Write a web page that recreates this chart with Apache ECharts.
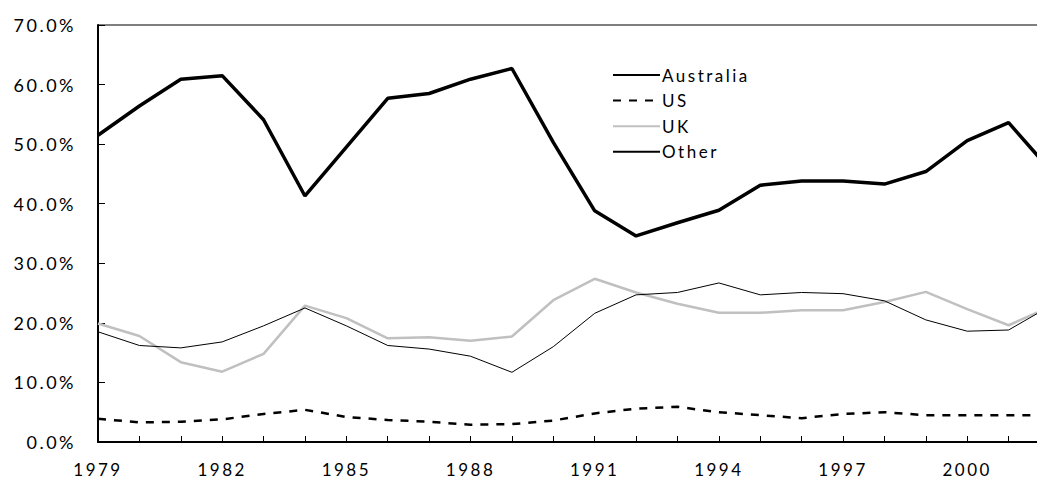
<!DOCTYPE html>
<html>
<head>
<meta charset="utf-8">
<script src="https://cdn.jsdelivr.net/npm/echarts@6/dist/echarts.min.js"></script>
<style>
  html, body { margin: 0; padding: 0; background: #fff; }
  #main { width: 1037px; height: 478px; overflow: hidden; }
  #main svg text { letter-spacing: 2.5px; }
</style>
</head>
<body>
<div id="main"></div>
<script>
const years = ['1979','1980','1981','1982','1983','1984','1985','1986','1987','1988','1989','1990',
               '1991','1992','1993','1994','1995','1996','1997','1998','1999','2000','2001','2002'];
const australia = [51.5,56.4,60.9,61.5,54.1,41.3,49.5,57.7,58.5,60.9,62.7,50.3,
                   38.8,34.6,36.8,38.9,43.1,43.8,43.8,43.3,45.4,50.6,53.6,45.7];
const us = [3.9,3.3,3.4,3.8,4.7,5.4,4.2,3.7,3.4,2.9,3.0,3.6,
            4.8,5.6,5.9,5.0,4.5,4.0,4.7,5.0,4.5,4.5,4.5,4.5];
const uk = [19.9,17.8,13.4,11.8,14.8,22.9,20.8,17.4,17.6,17.0,17.7,23.8,
            27.4,25.1,23.2,21.7,21.7,22.1,22.1,23.5,25.2,22.3,19.6,22.7];
const other = [18.5,16.2,15.8,16.8,19.5,22.5,19.5,16.2,15.6,14.4,11.7,16.0,
               21.6,24.7,25.1,26.7,24.7,25.1,24.9,23.7,20.5,18.6,18.8,22.8];

const FONT = 'Lato, "Open Sans", sans-serif';
const chart = echarts.init(document.getElementById('main'), null, { renderer: 'svg' });
chart.setOption({
  animation: false,
  backgroundColor: '#ffffff',
  grid: {
    left: 98, right: -13, top: 25, bottom: 36,
    containLabel: false, outerBoundsMode: 'none',
    show: true, borderColor: '#000', borderWidth: 1, backgroundColor: 'transparent'
  },
  legend: {
    orient: 'vertical',
    left: 607, top: 60,
    itemWidth: 47, itemHeight: 14, itemGap: 5.6,
    itemStyle: { opacity: 0 },
    textStyle: { fontFamily: FONT, fontSize: 17, color: '#000', lineHeight: 20, padding: [0,0,0,-3] },
    data: ['Australia', 'US', 'UK', 'Other']
  },
  xAxis: {
    type: 'category',
    data: years,
    boundaryGap: false,
    axisLine: { lineStyle: { color: '#000', width: 2 } },
    axisTick: { inside: true, length: 6, interval: 0, lineStyle: { color: '#000', width: 1 } },
    axisLabel: { interval: 2, margin: 20, lineHeight: 14, fontFamily: FONT, fontSize: 17, color: '#000' },
    splitLine: { show: false }
  },
  yAxis: {
    type: 'value',
    min: 0, max: 70, interval: 10,
    axisLine: { show: true, lineStyle: { color: '#000', width: 2 } },
    axisTick: { show: true, inside: true, length: 7, lineStyle: { color: '#000', width: 1 } },
    axisLabel: { margin: 22, fontFamily: FONT, fontSize: 18, color: '#000',
                 formatter: v => v.toFixed(1) + '%' },
    splitLine: { show: false }
  },
  series: [
    { name: 'Australia', type: 'line', data: australia, symbol: 'none',
      lineStyle: { color: '#000', width: 3.5 }, itemStyle: { color: '#000' } },
    { name: 'US', type: 'line', data: us, symbol: 'none',
      lineStyle: { color: '#000', width: 2.5, type: [8, 8] }, itemStyle: { color: '#000' } },
    { name: 'UK', type: 'line', data: uk, symbol: 'none',
      lineStyle: { color: '#c0c0c0', width: 2.5 }, itemStyle: { color: '#c0c0c0' } },
    { name: 'Other', type: 'line', data: other, symbol: 'none',
      lineStyle: { color: '#000', width: 1 }, itemStyle: { color: '#000' } }
  ]
});
</script>
</body>
</html>
